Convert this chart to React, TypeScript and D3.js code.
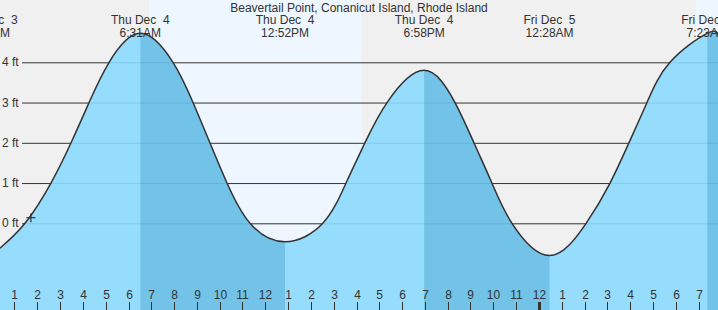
import React from "react";
import * as d3 from "d3";

const W = 718;
const H = 310;

const title = "Beavertail Point, Conanicut Island, Rhode Island";

// tide curve readings: hours from midnight Thu Dec 4, level in ft
const tideHours = [0.36, 1.46, 2.6, 3.48, 4.27, 5.15, 6.517, 7.95, 8.83, 9.57, 10.32, 11.33, 12.867, 14.52, 15.54, 16.37, 17.34, 18.967, 20.32, 21.15, 21.94, 22.82, 24.467, 26.07, 27.12, 27.95, 28.74, 29.75, 31.383, 31.86];
const tideFeet = [-0.62, 0, 1, 2, 3, 4, 4.72, 4, 3, 2, 1, 0, -0.46, 0, 1, 2, 3, 3.8, 3, 2, 1, 0, -0.8, 0, 1, 2, 3, 4, 4.72, 4.68];

// high / low extremes
const extremeHours = [-0.23, 6.517, 12.867, 18.967, 24.467, 31.383];
const extremeDay = ["Wed Dec  3", "Thu Dec  4", "Thu Dec  4", "Thu Dec  4", "Fri Dec  5", "Fri Dec  5"];
const extremeTime = ["11:46PM", "6:31AM", "12:52PM", "6:58PM", "12:28AM", "7:23AM"];

// falling tide intervals (high -> low)
const fallingStart = [6.517, 18.967, 31.383];
const fallingEnd = [12.867, 24.467, 34];

// daylight intervals
const dayStart = [6.9, 30.89];
const dayEnd = [16.24, 40];

const yTicks = [0, 1, 2, 3, 4];
const hourTicks = d3.range(1, 32);

const nowHour = 1.72;
const nowFeet = 0.14;

export default function App() {
  const x = d3.scaleLinear().domain([0, 24]).range([-8.3, 538.9]);
  const y = d3.scaleLinear().domain([0, 4]).range([223.3, 62.3]);

  const pts: [number, number][] = tideHours.map((h, i) => [h, tideFeet[i]]);
  const area = d3
    .area<[number, number]>()
    .x((d) => x(d[0]))
    .y0(H)
    .y1((d) => y(d[1]))
    .curve(d3.curveNatural);
  const line = d3
    .line<[number, number]>()
    .x((d) => x(d[0]))
    .y((d) => y(d[1]))
    .curve(d3.curveNatural);
  const areaPath = area(pts) || "";
  const linePath = line(pts) || "";

  const font = "'Liberation Sans', Arial, Helvetica, sans-serif";
  const txt = "#333";

  return (
    <svg
      width={W}
      height={H}
      style={{ position: "absolute", left: 0, top: 0, display: "block" }}
      fontFamily={font}
      fontSize={12}
    >
      <defs>
        <clipPath id="water">
          <path d={areaPath} />
        </clipPath>
      </defs>
      <rect x={0} y={0} width={W} height={H} fill="#f0f0f0" />
      {dayStart.map((s, i) => (
        <rect key={"d" + i} x={x(s)} y={0} width={x(dayEnd[i]) - x(s)} height={H} fill="#eef6ff" />
      ))}
      {yTicks.map((v) => (
        <line key={"g" + v} x1={22} x2={W} y1={y(v) + 0.5} y2={y(v) + 0.5} stroke="#333" strokeWidth={1} />
      ))}
      <path d={areaPath} fill="#96dcfc" />
      <g clipPath="url(#water)">
        {fallingStart.map((s, i) => (
          <rect key={"f" + i} x={x(s)} y={0} width={x(fallingEnd[i]) - x(s)} height={H} fill="#72c3e7" />
        ))}
        {yTicks.map((v) => (
          <line key={"gw" + v} x1={0} x2={W} y1={y(v) + 0.5} y2={y(v) + 0.5} stroke="rgba(0,90,150,0.14)" strokeWidth={1} />
        ))}
      </g>
      <path d={linePath} fill="none" stroke="#333" strokeWidth={1.5} />
      {yTicks.map((v) => (
        <text key={"yl" + v} x={2} y={y(v) + 4} fill={txt}>
          {v + " ft"}
        </text>
      ))}
      <g stroke="#333" strokeWidth={1.2}>
        <line x1={x(nowHour) - 4.5} x2={x(nowHour) + 4.5} y1={y(nowFeet)} y2={y(nowFeet)} />
        <line x1={x(nowHour)} x2={x(nowHour)} y1={y(nowFeet) - 4.5} y2={y(nowFeet) + 4.5} />
      </g>
      <text x={W / 2} y={12} textAnchor="middle" fill={txt}>
        {title}
      </text>
      {extremeHours.map((h, i) => (
        <g key={"e" + i}>
          <text x={x(h)} y={24} textAnchor="middle" fill={txt} style={{ whiteSpace: "pre" }}>
            {extremeDay[i]}
          </text>
          <text x={x(h)} y={36.5} textAnchor="middle" fill={txt}>
            {extremeTime[i]}
          </text>
        </g>
      ))}
      {hourTicks.map((h) => {
        const xp = Math.round(x(h)) + 0.5;
        const lab = String(h % 12 === 0 ? 12 : h % 12);
        return (
          <g key={"h" + h}>
            <text x={xp} y={299} textAnchor="middle" fill={txt}>
              {lab}
            </text>
            <line x1={xp} x2={xp} y1={302} y2={H} stroke="#333" strokeWidth={h === 24 ? 3 : 1} />
          </g>
        );
      })}
    </svg>
  );
}
